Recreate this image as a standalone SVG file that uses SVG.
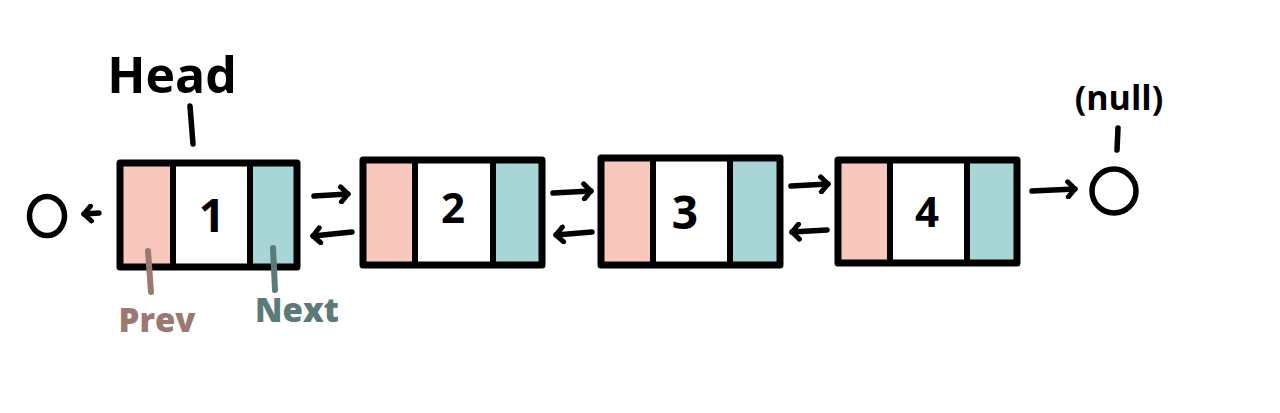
<svg xmlns="http://www.w3.org/2000/svg" width="1280" height="413" viewBox="0 0 1280 413">
<defs>
<marker id="ah" viewBox="0 0 14 20" refX="10" refY="10" markerWidth="14" markerHeight="20" markerUnits="userSpaceOnUse" orient="auto">
<path d="M3,2.5 L10,10 L3,17.5" fill="none" stroke="#000" stroke-width="5" stroke-linecap="round" stroke-linejoin="round"/>
</marker>
</defs>
<style>
.frame{fill:none;stroke:#000;stroke-width:7;stroke-linejoin:round}
.prev{fill:#f8c8bf}
.next{fill:#a8d5d6}
.cell{fill:#fff}
.div{stroke:#000;stroke-width:6}
.num{font-family:"Open Sans","DejaVu Sans",sans-serif;font-weight:700;fill:#000;text-anchor:middle}
.arr{fill:none;stroke:#000;stroke-width:5.5;stroke-linecap:round;marker-end:url(#ah)}
.tick{stroke:#000;stroke-width:5.5;stroke-linecap:round}
.lbl{font-family:"Open Sans","DejaVu Sans",sans-serif;font-weight:800;font-size:33px;text-anchor:middle}
</style>
<rect width="1280" height="413" fill="#fff"/>

<g id="head-label">
<text class="num" x="172" y="93" font-size="50">Head</text>
<line class="tick" x1="190" y1="106" x2="193" y2="144"/>
</g>

<g id="null-left">
<ellipse cx="47" cy="216" rx="17.5" ry="19.5" fill="none" stroke="#000" stroke-width="5.5"/>
</g>

<g id="node1">
<rect class="prev" x="123" y="166" width="50" height="98"/>
<rect class="cell" x="173" y="166" width="77" height="98"/>
<rect class="next" x="250" y="166" width="45" height="98"/>
<line class="div" x1="173" y1="166" x2="173" y2="264"/>
<line class="div" x1="250" y1="166" x2="250" y2="264"/>
<rect class="frame" x="120" y="163" width="177" height="104"/>
<text class="num" x="212" y="232" font-size="46">1</text>
</g>

<g id="node2">
<rect class="prev" x="366" y="163" width="49" height="99"/>
<rect class="cell" x="415" y="163" width="78" height="99"/>
<rect class="next" x="493" y="163" width="46" height="99"/>
<line class="div" x1="415" y1="163" x2="415" y2="262"/>
<line class="div" x1="493" y1="163" x2="493" y2="262"/>
<rect class="frame" x="363" y="160" width="179" height="105"/>
<text class="num" x="453" y="223" font-size="42">2</text>
</g>

<g id="node3">
<rect class="prev" x="604" y="161" width="49" height="101"/>
<rect class="cell" x="653" y="161" width="77" height="101"/>
<rect class="next" x="730" y="161" width="47" height="101"/>
<line class="div" x1="653" y1="161" x2="653" y2="262"/>
<line class="div" x1="730" y1="161" x2="730" y2="262"/>
<rect class="frame" x="601" y="158" width="179" height="107"/>
<text class="num" x="685" y="229" font-size="46">3</text>
</g>

<g id="node4">
<rect class="prev" x="841" y="163" width="49" height="97"/>
<rect class="cell" x="890" y="163" width="77" height="97"/>
<rect class="next" x="967" y="163" width="47" height="97"/>
<line class="div" x1="890" y1="163" x2="890" y2="260"/>
<line class="div" x1="967" y1="163" x2="967" y2="260"/>
<rect class="frame" x="838" y="160" width="179" height="103"/>
<text class="num" x="927" y="227" font-size="42">4</text>
</g>

<g id="null-right">
<circle cx="1114" cy="191" r="22" fill="none" stroke="#000" stroke-width="5.5"/>
<line class="tick" x1="1118" y1="128" x2="1117" y2="150"/>
<text class="num" x="1119" y="110" font-size="34">(null)</text>
</g>

<g id="labels">
<line x1="148" y1="251" x2="151" y2="292" stroke="#9c7872" stroke-width="6" stroke-linecap="round"/>
<text class="lbl" x="157" y="332" fill="#9c7872">Prev</text>
<line x1="273" y1="248" x2="275" y2="290" stroke="#5b7a7a" stroke-width="6" stroke-linecap="round"/>
<text class="lbl" x="297" y="322" fill="#5b7a7a">Next</text>
</g>

<g id="connectors">
<path class="arr" d="M99,213 L84,214" />
<path class="arr" d="M314,196 L348,194"/>
<path class="arr" d="M352,232 L313,236"/>
<path class="arr" d="M553,193 L591,191"/>
<path class="arr" d="M592,232 L556,235"/>
<path class="arr" d="M791,186 L828,184"/>
<path class="arr" d="M827,230 L792,232"/>
<path class="arr" d="M1032,191 L1075,189"/>
</g>
</svg>
